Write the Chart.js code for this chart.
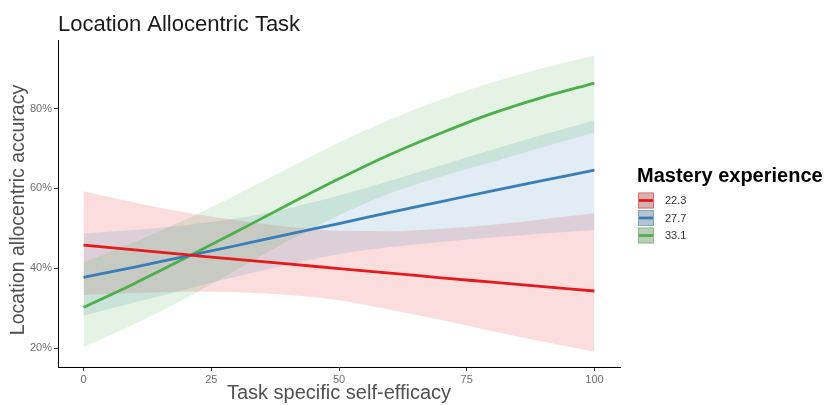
<!DOCTYPE html>
<html>
<head>
<meta charset="utf-8">
<title>Location Allocentric Task</title>
<script src="https://cdn.jsdelivr.net/npm/chart.js@4.4.1/dist/chart.umd.min.js"></script>
<style>
  html, body { margin: 0; padding: 0; background: #ffffff; }
  #wrap { width: 826px; height: 405px; position: relative; }
</style>
</head>
<body>
<div id="wrap"><canvas id="chart" width="826" height="405"></canvas></div>
<script>
// Predicted accuracy (%) by task specific self-efficacy, one curve per mastery level
const selfEfficacy = [0, 10, 20, 30, 40, 50, 60, 70, 80, 90, 100];
const masteryLevels = ['22.3', '27.7', '33.1'];

const fit22  = [45.8, 44.6, 43.4, 42.2, 41.1, 39.9, 38.8, 37.6, 36.5, 35.4, 34.3];
const low22  = [33.3, 33.8, 34.1, 34.0, 33.3, 32.0, 29.6, 27.0, 24.2, 21.6, 19.1];
const high22 = [59.3, 56.5, 54.0, 52.0, 50.4, 49.4, 49.3, 49.9, 50.9, 52.3, 53.8];

const fit27  = [37.7, 40.3, 43.0, 45.7, 48.5, 51.2, 54.0, 56.7, 59.4, 62.0, 64.6];
const low27  = [28.1, 31.4, 34.7, 37.9, 40.9, 43.5, 45.3, 46.6, 47.7, 48.7, 49.6];
const high27 = [48.7, 49.6, 50.8, 52.5, 55.0, 58.2, 61.9, 65.8, 69.7, 73.5, 77.1];

const fit33  = [30.2, 36.2, 42.6, 49.2, 55.9, 62.4, 68.5, 73.9, 78.8, 82.9, 86.4];
const low33  = [20.2, 26.0, 32.5, 39.6, 46.8, 53.3, 58.8, 63.0, 66.6, 70.4, 74.0];
const high33 = [41.5, 46.6, 52.2, 58.5, 65.0, 71.5, 77.3, 82.3, 86.6, 90.2, 93.3];

const xTicks = [0, 25, 50, 75, 100];
const yTicks = [20, 40, 60, 80];

// Styling
const FONT = '"Liberation Sans", Arial, Helvetica, sans-serif';
const seriesColors = ['#E41A1C', '#377EB8', '#4DAF4A'];
const bandAlpha = 0.15;

function rgba(hex, a) {
  const n = parseInt(hex.slice(1), 16);
  return `rgba(${(n >> 16) & 255},${(n >> 8) & 255},${n & 255},${a})`;
}
function points(ys) {
  return selfEfficacy.map((x, i) => ({ x: x, y: ys[i] }));
}

const groups = [
  { label: masteryLevels[0], fit: fit22, low: low22, high: high22 },
  { label: masteryLevels[1], fit: fit27, low: low27, high: high27 },
  { label: masteryLevels[2], fit: fit33, low: low33, high: high33 }
];

const datasets = [];
groups.forEach((g, k) => {
  const lowIndex = datasets.length;
  datasets.push({
    data: points(g.low), borderColor: 'rgba(0,0,0,0)', borderWidth: 0,
    pointRadius: 0, fill: false, order: 6 - k, cubicInterpolationMode: 'monotone'
  });
  datasets.push({
    data: points(g.high), borderColor: 'rgba(0,0,0,0)', borderWidth: 0,
    pointRadius: 0, fill: { target: lowIndex }, backgroundColor: rgba(seriesColors[k], bandAlpha),
    order: 6 - k, cubicInterpolationMode: 'monotone'
  });
});
groups.forEach((g, k) => {
  datasets.push({
    label: g.label, data: points(g.fit), borderColor: seriesColors[k], borderWidth: 2.8,
    pointRadius: 0, fill: false, order: 1, cubicInterpolationMode: 'monotone', isFit: true
  });
});

// Heading, vertical axis title and the right-hand legend block
const decorations = {
  id: 'decorations',
  afterDraw(chart) {
    const ctx = chart.ctx;
    ctx.save();
    ctx.fillStyle = '#1a1a1a';
    ctx.font = `22px ${FONT}`;
    ctx.textAlign = 'left';
    ctx.textBaseline = 'alphabetic';
    ctx.fillText('Location Allocentric Task', 58, 31);

    ctx.save();
    ctx.translate(19, 210);
    ctx.rotate(-Math.PI / 2);
    ctx.textAlign = 'center';
    ctx.textBaseline = 'middle';
    ctx.fillStyle = '#505050';
    ctx.font = `19.5px ${FONT}`;
    ctx.fillText('Location allocentric accuracy', 0, 0);
    ctx.restore();

    ctx.textAlign = 'left';
    ctx.font = `bold 20px ${FONT}`;
    ctx.fillStyle = '#000000';
    ctx.fillText('Mastery experience', 637, 182);

    const fits = chart.data.datasets.filter(d => d.isFit);
    const keyX = 638, keySize = 16, rowGap = 17.5, firstCenter = 200.5;
    fits.forEach((d, i) => {
      const cy = firstCenter + i * rowGap;
      const top = cy - keySize / 2;
      ctx.fillStyle = 'rgba(200,200,200,0.8)';
      ctx.fillRect(keyX, top, keySize, keySize);
      ctx.fillStyle = rgba(d.borderColor, 0.18);
      ctx.fillRect(keyX, top, keySize, keySize);
      ctx.strokeStyle = rgba(d.borderColor, 0.45);
      ctx.lineWidth = 1;
      ctx.strokeRect(keyX + 0.5, top + 0.5, keySize - 1, keySize - 1);
      ctx.strokeStyle = d.borderColor;
      ctx.lineWidth = 2.8;
      ctx.beginPath();
      ctx.moveTo(keyX + 1, cy);
      ctx.lineTo(keyX + keySize - 1, cy);
      ctx.stroke();
      ctx.fillStyle = '#333333';
      ctx.font = `11px ${FONT}`;
      ctx.textBaseline = 'middle';
      ctx.fillText(d.label, 665, cy + 0.5);
      ctx.textBaseline = 'alphabetic';
    });
    ctx.restore();
  }
};

new Chart(document.getElementById('chart'), {
  type: 'line',
  data: { datasets: datasets },
  plugins: [decorations],
  options: {
    responsive: false,
    animation: false,
    events: [],
    layout: { padding: { top: 40, right: 206, bottom: 0, left: 0 } },
    plugins: {
      legend: { display: false },
      title: { display: false },
      tooltip: { enabled: false },
      filler: { propagate: false }
    },
    scales: {
      x: {
        type: 'linear', min: -5, max: 105,
        afterBuildTicks(scale) { scale.ticks = xTicks.map(v => ({ value: v })); },
        afterFit(scale) { scale.height = 38; },
        grid: { display: true, drawOnChartArea: false, drawTicks: true, tickLength: 4, color: '#333333' },
        border: { display: true, color: '#000000', width: 1 },
        ticks: { color: '#6e6e6e', font: { family: FONT, size: 11 }, padding: 2, maxRotation: 0 },
        title: {
          display: true, text: 'Task specific self-efficacy', color: '#505050',
          font: { family: FONT, size: 20 }, padding: { top: 0, bottom: 0 }
        }
      },
      y: {
        type: 'linear', min: 15.25, max: 97.2,
        afterBuildTicks(scale) { scale.ticks = yTicks.map(v => ({ value: v })); },
        afterFit(scale) { scale.width = 58; },
        grid: { display: true, drawOnChartArea: false, drawTicks: true, tickLength: 4, color: '#333333' },
        border: { display: true, color: '#000000', width: 1 },
        ticks: {
          color: '#6e6e6e', font: { family: FONT, size: 11 }, padding: 2,
          callback: v => v + '%'
        },
        title: { display: false }
      }
    }
  }
});
</script>
</body>
</html>
